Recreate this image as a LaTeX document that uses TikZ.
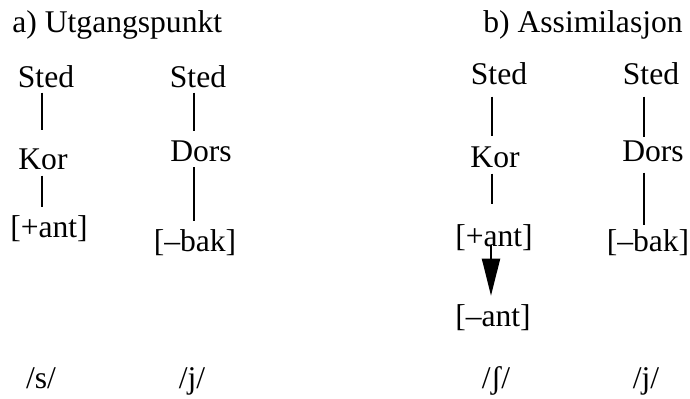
\documentclass[tikz,border=0pt]{standalone}
\usepackage{fontspec}
\setmainfont{Liberation Serif}
\usetikzlibrary{arrows.meta}

\begin{document}
\begin{tikzpicture}
  [ x=0.5pt, y=-0.5pt
  , font=\fontsize{15.8}{19}\selectfont
  , feat/.style={inner sep=0pt, anchor=base}
  , title/.style={feat, anchor=base west}
  , link/.style={line width=1pt}
  , assim/.style={link, -{Triangle[length=18.5pt,width=9pt]}}
  ]
  \useasboundingbox (0,0) rectangle (690,398);

  % x of the vertical lines
  \coordinate (xA) at (42,0);
  \coordinate (xB) at (194,0);
  \coordinate (xC) at (492,0);
  \coordinate (xD) at (644,0);
  \coordinate (xE) at (491,0);

  \node[title] (ta) at (12,32)  {a) Utgangspunkt};
  \node[title] (tb) at (483,32) {b) Assimilasjon};

  % a) /s/ and /j/
  \node[feat] (stedA) at (46,87)   {Sted};
  \node[feat] (korA)  at (43,169)  {Kor};
  \node[feat] (antA)  at (49,237)  {[+ant]};
  \node[feat] (sA)    at (41,388)  {/s/};

  \node[feat] (stedB) at (198,87)  {Sted};
  \node[feat] (dorsB) at (201,161) {Dors};
  \node[feat] (bakB)  at (195,251) {[–bak]};
  \node[feat] (jB)    at (192,388) {/j/};

  % b) /ʃ/ and /j/
  \node[feat] (stedC)  at (499,84)  {Sted};
  \node[feat] (korC)   at (495,167) {Kor};
  \node[feat] (antC)   at (494,246) {[+ant]};
  \node[feat] (nantC)  at (493,326) {[–ant]};
  \node[feat] (shC)    at (496,388) {/ʃ/};

  \node[feat] (stedD) at (651,84)  {Sted};
  \node[feat] (dorsD) at (653,161) {Dors};
  \node[feat] (bakD)  at (648,251) {[–bak]};
  \node[feat] (jD)    at (646,388) {/j/};

  \draw[link, shorten <=2.5pt, shorten >=9pt]   (stedA.south -| xA) -- (korA.north -| xA);
  \draw[link, shorten <=3pt,   shorten >=4pt]   (korA.south -| xA)  -- (antA.north -| xA);

  \draw[link, shorten <=2.5pt, shorten >=4.7pt] (stedB.south -| xB) -- (dorsB.north -| xB);
  \draw[link, shorten <=2.8pt, shorten >=3.7pt] (dorsB.south -| xB) -- (bakB.north -| xB);

  \draw[link, shorten <=6pt,   shorten >=5pt]   (stedC.south -| xC) -- (korC.north -| xC);
  \draw[link, shorten <=3pt,   shorten >=10pt]  (korC.south -| xC)  -- (antC.north -| xC);
  \draw[assim, shorten <=-3pt, shorten >=4pt]   (antC.south -| xE)  -- (nantC.north -| xE);

  \draw[link, shorten <=6pt,   shorten >=1.7pt] (stedD.south -| xD) -- (dorsD.north -| xD);
  \draw[link, shorten <=5.5pt, shorten >=1.7pt] (dorsD.south -| xD) -- (bakD.north -| xD);

\end{tikzpicture}
\end{document}
